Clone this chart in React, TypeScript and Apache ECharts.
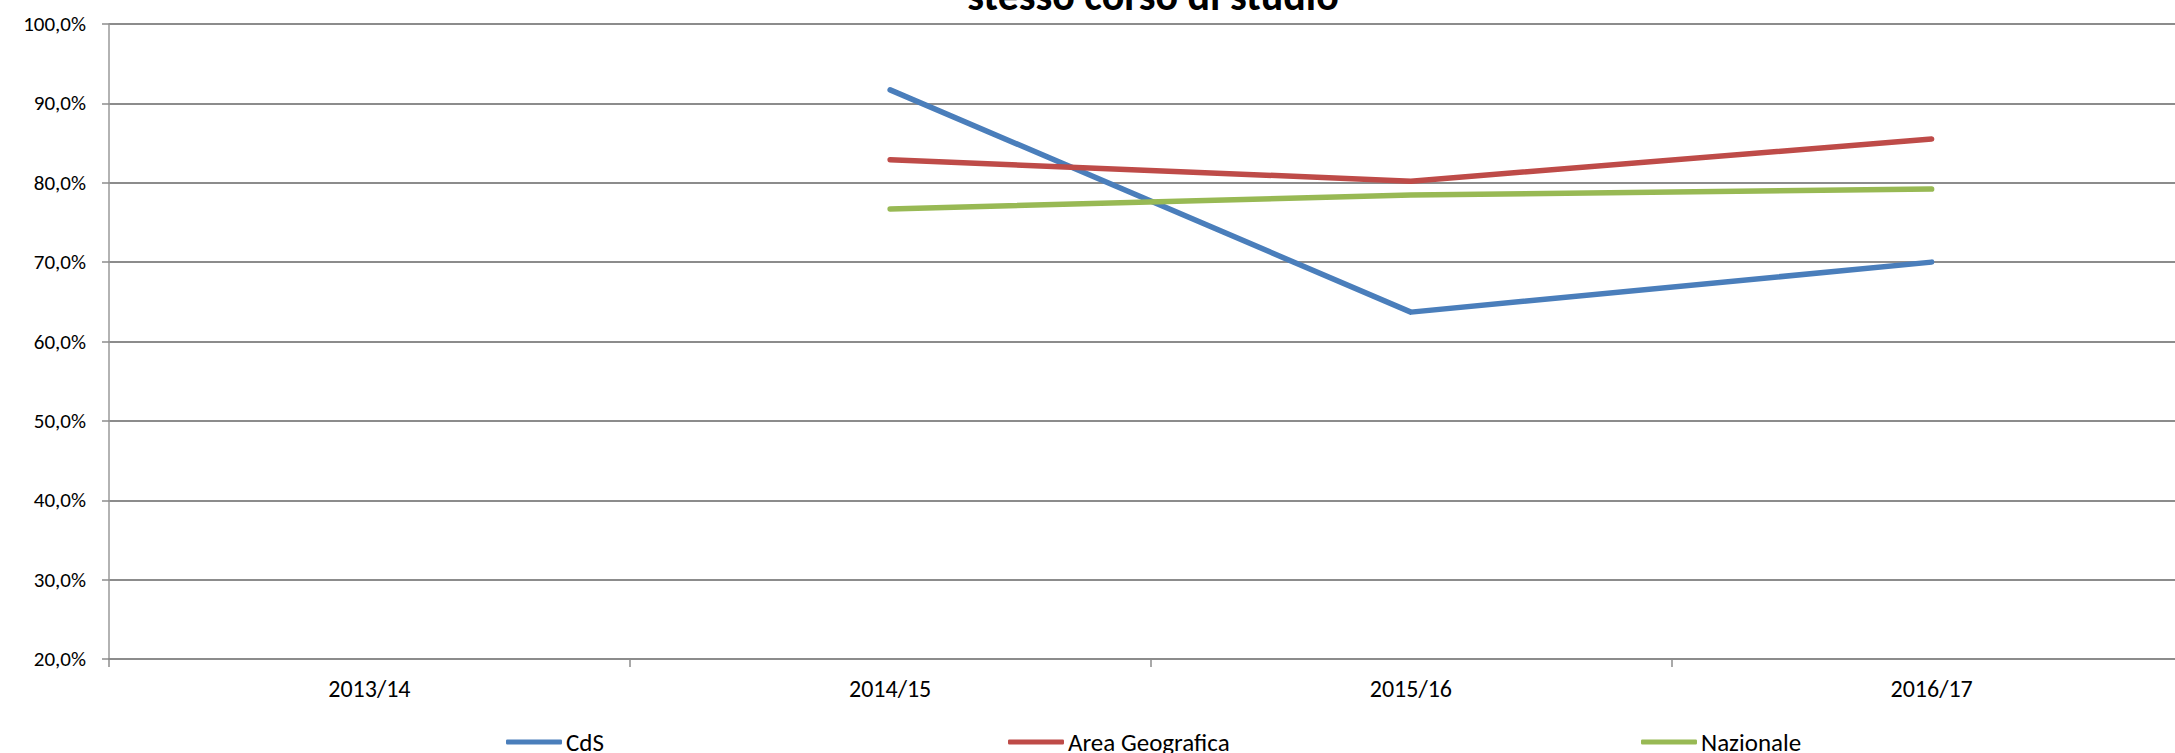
import React, { useEffect, useRef } from "react";
import * as echarts from "echarts";

const categories = ["2013/14", "2014/15", "2015/16", "2016/17"];
const cdsValues = [null, 91.7, 63.7, 70.0];
const areaValues = [null, 82.9, 80.2, 85.5];
const nazValues = [null, 76.7, 78.45, 79.2];
const seriesNames = ["CdS", "Area Geografica", "Nazionale"];
const seriesColors = ["#4A7EBB", "#BE4B48", "#98B954"];
const titleText = "stesso corso di studio";

const FONT = "Carlito, Lato, 'Open Sans', sans-serif";

export default function App() {
  const ref = useRef<HTMLDivElement | null>(null);
  useEffect(() => {
    document.body.style.margin = "0";
    if (!ref.current) return;
    const chart = echarts.init(ref.current, null, { renderer: "svg" });
    const values = [cdsValues, areaValues, nazValues];
    const legendLefts = [506, 1008, 1641];
    chart.setOption({
      animation: false,
      backgroundColor: "#ffffff",
      textStyle: { fontFamily: FONT },
      graphic: [
        {
          type: "text",
          x: 1153,
          y: -5,
          style: {
            text: titleText,
            fontFamily: FONT,
            fontWeight: "bold",
            fontSize: 42,
            fill: "#000",
            align: "center",
            verticalAlign: "middle",
          },
        },
      ],
      legend: seriesNames.map((n, i) => ({
        data: [n],
        left: legendLefts[i],
        top: 728,
        padding: 0,
        icon: "roundRect",
        itemWidth: 56,
        itemHeight: 5,
        itemGap: 4,
        textStyle: { fontFamily: FONT, fontSize: 25, color: "#000", lineHeight: 28, padding: [0, 0, 0, -1] },
      })),
      grid: { left: 109, top: 24, bottom: 94, width: 2083, containLabel: false, outerBoundsMode: "none" },
      xAxis: {
        type: "category",
        data: categories,
        boundaryGap: true,
        axisLine: { show: true, lineStyle: { color: "#8c8c8c", width: 2 } },
        axisTick: { show: true, length: 8, interval: 0, alignWithLabel: false, lineStyle: { color: "#8c8c8c", width: 1.5 } },
        axisLabel: { margin: 17, fontFamily: FONT, fontSize: 24, color: "#000", interval: 0 },
        splitLine: { show: false },
      },
      yAxis: {
        type: "value",
        min: 20,
        max: 100,
        interval: 10,
        axisLine: { show: true, lineStyle: { color: "#9a9a9a", width: 1.5 } },
        axisTick: { show: true, length: 7, lineStyle: { color: "#8c8c8c", width: 1.5 } },
        axisLabel: {
          margin: 23,
          fontFamily: FONT,
          fontSize: 21,
          color: "#000",
          formatter: (v: number) => v.toFixed(1).replace(".", ",") + "%",
        },
        splitLine: { show: true, lineStyle: { color: "#8c8c8c", width: 2 } },
      },
      series: seriesNames.map((n, i) => ({
        name: n,
        type: "line",
        data: values[i],
        symbol: "none",
        showSymbol: false,
        connectNulls: false,
        color: seriesColors[i],
        itemStyle: { color: seriesColors[i] },
        lineStyle: { color: seriesColors[i], width: 5.5, cap: "round", join: "round" },
      })),
    });
    return () => chart.dispose();
  }, []);
  return (
    <div style={{ position: "absolute", left: 0, top: 0, width: 2175, height: 753, overflow: "hidden" }}>
      <div ref={ref} style={{ position: "absolute", left: 0, top: 0, width: 2210, height: 753 }} />
    </div>
  );
}
